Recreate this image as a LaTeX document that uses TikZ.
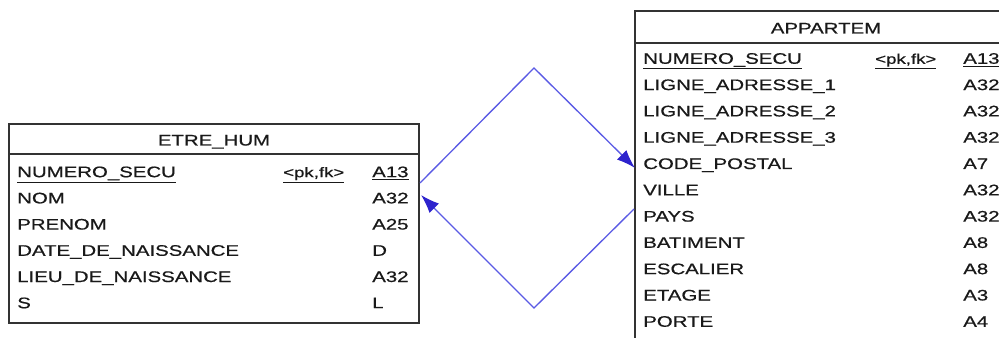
\documentclass[tikz,border=0pt]{standalone}
\usepackage{fontspec}
\setmainfont{Liberation Sans}[FakeStretch=1.33,FakeBold=0.6]
\usepackage{tikz}
\usetikzlibrary{arrows.meta,calc,positioning}
\definecolor{linkblue}{RGB}{90,90,228}
\definecolor{tipblue}{RGB}{45,35,205}
\tikzset{
	er diagram/.style={
		x=0.75pt, y=-0.75pt,
		entity/.style={draw=black!80, line width=1.5pt, inner sep=0pt,
			anchor=north west, fill=white},
		entity title/.style={anchor=base, inner sep=0pt,
			font=\fontsize{11.5}{13}\selectfont, text=black!90},
		field/.style={anchor=base west, inner sep=0pt,
			font=\fontsize{11.5}{13}\selectfont, text=black!90},
		key/.style={anchor=base west, inner sep=0pt,
			font=\fontsize{10.5}{12}\selectfont, text=black!90},
		sep/.style={draw=black!80, line width=1.2pt},
		link/.style={draw=linkblue, line width=1pt, line join=miter,
			-{Latex[length=14pt,width=10pt,color=tipblue]}}
		},
	row step/.store in=\rowstep,
	row step=26.3
}

\begin{document}
\begin{tikzpicture}[er diagram]
   \useasboundingbox (0,0) rectangle (999,338);
   \clip (0,0) rectangle (999,338);
   % ETRE_HUM
   \node[entity, minimum width=307.5pt, minimum height=149.25pt] (etre) at (8,123) {};
   \node[entity title] (etre_t) at ($(etre.north)+(0,22.5)$) {ETRE\_HUM};
   \draw[sep] ($(etre.north west)+(0,31)$) -- ($(etre.north east)+(0,31)$);
   \node[key] (etre_k) at ($(etre.north west)+(275,54.2)$) {\underline{<pk,fk>}};
   \foreach \name/\type [count=\i] in {{\underline{NUMERO\_SECU}}/{\underline{A13}},
         NOM/A32, PRENOM/A25, DATE\_DE\_NAISSANCE/D, LIEU\_DE\_NAISSANCE/A32, S/L} {
      \node[field] (etre_n\i) at ($(etre.north west)+(9,{54.2+26.2*(\i-1)})$) {\name};
      \node[field] (etre_d\i) at ($(etre.north west)+(364,{54.2+26.2*(\i-1)})$) {\type};
   }
   % APPARTEM
   \node[entity, minimum width=286.5pt, minimum height=251pt] (app) at (634,10) {};
   \node[entity title] (app_t) at ($(app.north)+(0,23.5)$) {APPARTEM};
   \draw[sep] ($(app.north west)+(0,33)$) -- ($(app.north east)+(0,33)$);
   \node[key] (app_k) at ($(app.north west)+(241,53.8)$) {\underline{<pk,fk>}};
   \foreach \name/\type [count=\i] in {{\underline{NUMERO\_SECU}}/{\underline{A13}},
         LIGNE\_ADRESSE\_1/A32, LIGNE\_ADRESSE\_2/A32, LIGNE\_ADRESSE\_3/A32,
         CODE\_POSTAL/A7, VILLE/A32, PAYS/A32, BATIMENT/A8, ESCALIER/A8,
         ETAGE/A3, PORTE/A4} {
      \node[field] (app_n\i) at ($(app.north west)+(9,{53.8+\rowstep*(\i-1)})$) {\name};
      \node[field] (app_d\i) at ($(app.north west)+(329,{53.8+\rowstep*(\i-1)})$) {\type};
   }
   % ports and lozenge corners
   \coordinate (etre_out) at ($(etre.north east)+(0,60)$);
   \coordinate (etre_in) at ($(etre.north east)+(1,72)$);
   \coordinate (app_in) at ($(app.north west)+(1,158)$);
   \coordinate (app_out) at ($(app.north west)+(0,199)$);
   \coordinate (loz_n) at (534,68);
   \coordinate (loz_s) at (534,308);
   \draw[link] (etre_out) -- (loz_n) -- (app_in);
   \draw[link] (app_out) -- (loz_s) -- (etre_in);
\end{tikzpicture}
\end{document}
